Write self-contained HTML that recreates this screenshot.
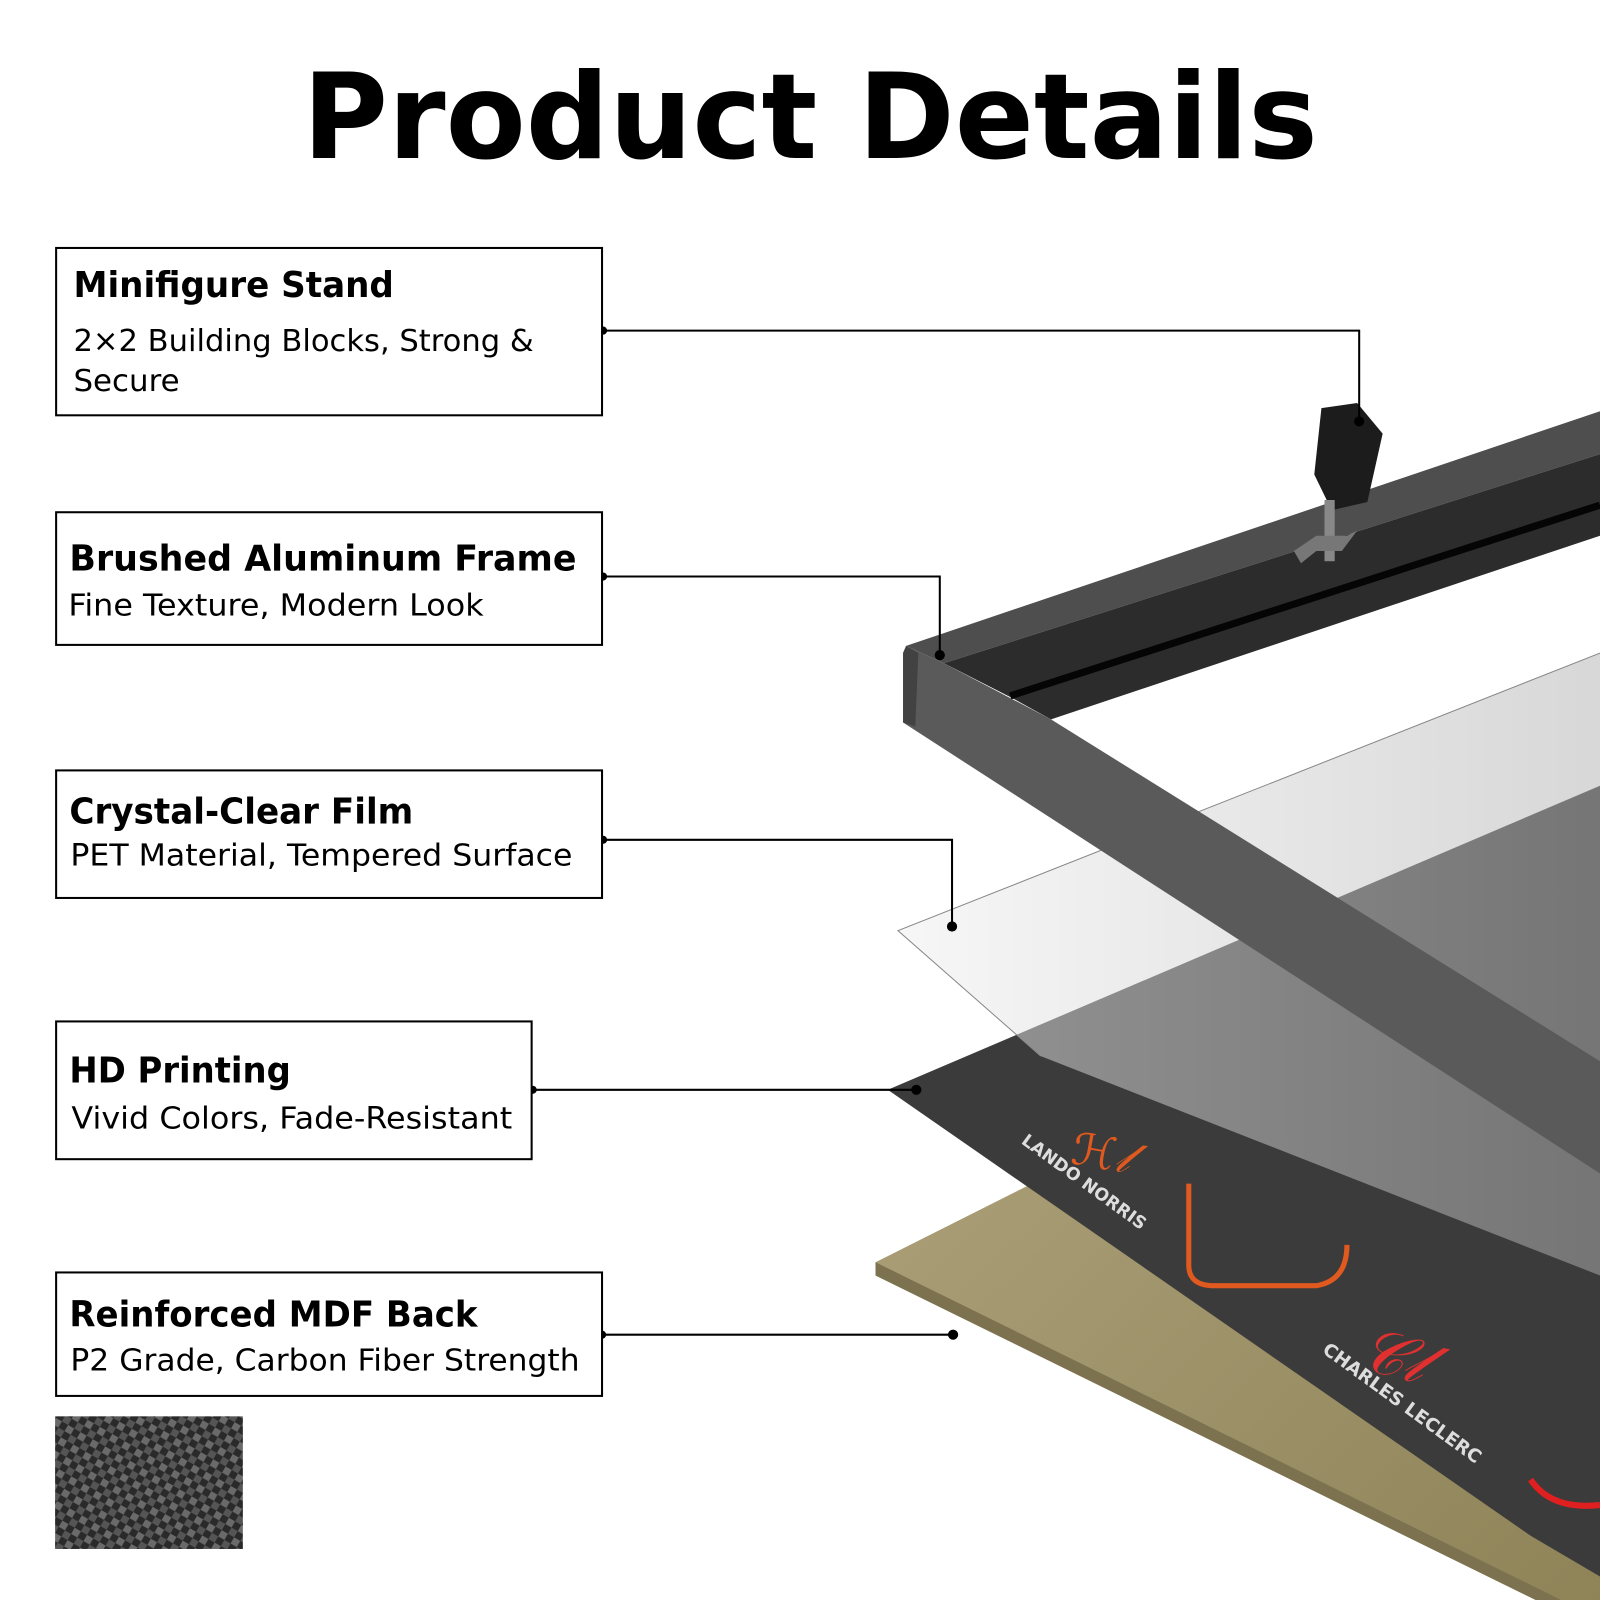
<!DOCTYPE html>
<html><head><meta charset="utf-8"><style>
html,body{margin:0;padding:0;background:#fff}
svg{display:block}
text{font-family:"DejaVu Sans","Liberation Sans",sans-serif}
</style></head><body>
<svg width="1600" height="1600" viewBox="0 0 1568 1568" xmlns="http://www.w3.org/2000/svg">
<defs>
<linearGradient id="film" x1="0" y1="0" x2="1" y2="0">
<stop offset="0" stop-color="#eeeeee"/><stop offset="1" stop-color="#b0b0b0"/></linearGradient>
<linearGradient id="mdf" x1="0" y1="0" x2="1" y2="1">
<stop offset="0" stop-color="#b0a57e"/><stop offset="1" stop-color="#8f8358"/></linearGradient>
<pattern id="cf" width="14" height="14" patternUnits="userSpaceOnUse" patternTransform="rotate(30)">
<rect width="14" height="14" fill="#2a2a2a"/><rect width="7" height="7" fill="#6a6a6a"/><rect x="7" y="7" width="7" height="7" fill="#555"/></pattern>
</defs>
<text x="794" y="155" text-anchor="middle" font-size="116" font-weight="bold" fill="#000" textLength="995" lengthAdjust="spacingAndGlyphs">Product Details</text>

<!-- MDF -->
<polygon points="858,1237 1568,880 1568,1568 1505,1568 858,1250" fill="url(#mdf)"/>
<polygon points="858,1237 858,1250 1505,1568 1530,1568" fill="#7d7250"/>
<!-- print -->
<polygon points="870,1068 1568,770 1568,1545 1500,1505" fill="#3b3b3b"/>
<path d="M1165,1160 L1165,1240 Q1165,1260 1190,1260 L1290,1260 Q1320,1255 1320,1220" fill="none" stroke="#e0591f" stroke-width="5"/>
<path d="M1500,1450 Q1520,1480 1568,1475" fill="none" stroke="#e02020" stroke-width="6"/>
<text x="1050" y="1140" font-size="44" fill="#e0591f" font-style="italic" transform="rotate(10 1050 1130)">ℋ𝓁</text>
<text x="1000" y="1120" font-size="17" font-weight="bold" fill="#ddd" transform="rotate(36 1000 1120)">LANDO NORRIS</text>
<text x="1330" y="1340" font-size="60" fill="#e03030" font-style="italic" transform="rotate(15 1330 1340)">𝒞𝓁</text>
<text x="1295" y="1325" font-size="18" font-weight="bold" fill="#ddd" transform="rotate(36 1295 1325)">CHARLES LECLERC</text>
<!-- film -->
<polygon points="880,912 1568,640 1568,1250 1020,1035" fill="url(#film)" opacity="0.5"/>
<polyline points="1568,640 880,912 1020,1035" fill="none" stroke="#888" stroke-width="1"/>
<!-- frame -->
<polygon points="888,633 1568,403 1568,445 925,650" fill="#4e4e4e"/>
<polygon points="925,650 1568,445 1568,525 1030,705 990,683" fill="#2c2c2c"/>
<line x1="990" y1="682" x2="1568" y2="495" stroke="#050505" stroke-width="7"/>
<polygon points="888,633 925,650 1030,705 1568,1040 1568,1150 885,708 885,640" fill="#5a5a5a"/>
<polygon points="885,640 888,633 900,640 897,712 885,708" fill="#424242"/>
<!-- stand -->
<polygon points="1295,400 1330,395 1355,425 1340,492 1305,500 1288,465" fill="#1c1c1c"/>
<rect x="1298" y="490" width="10" height="60" fill="#888"/>
<polygon points="1268,540 1290,525 1320,525 1330,520 1315,540 1290,540 1275,552" fill="#777"/>

<!-- leader lines -->
<g stroke="#000" stroke-width="2" fill="none">
<polyline points="591,324 1332,324 1332,413"/>
<polyline points="591,565 921,565 921,642"/>
<polyline points="591,823 933,823 933,908"/>
<polyline points="522,1068 898,1068"/>
<polyline points="590,1308 934,1308"/>
</g>
<g fill="#000">
<circle cx="591" cy="324" r="4"/><circle cx="1332" cy="413" r="5"/>
<circle cx="591" cy="565" r="4"/><circle cx="921" cy="642" r="5"/>
<circle cx="591" cy="823" r="4"/><circle cx="933" cy="908" r="5"/>
<circle cx="522" cy="1068" r="4"/><circle cx="898" cy="1068" r="5"/>
<circle cx="590" cy="1308" r="4"/><circle cx="934" cy="1308" r="5"/>
</g>

<!-- boxes -->
<g fill="#fff" stroke="#000" stroke-width="2">
<rect x="55" y="243" width="535" height="164"/>
<rect x="55" y="502" width="535" height="130"/>
<rect x="55" y="755" width="535" height="125"/>
<rect x="55" y="1001" width="466" height="135"/>
<rect x="55" y="1247" width="535" height="121"/>
</g>
<g fill="#000">
<text x="72" y="291" font-size="35" font-weight="bold" textLength="314" lengthAdjust="spacingAndGlyphs">Minifigure Stand</text>
<text x="72" y="344" font-size="30" textLength="451" lengthAdjust="spacingAndGlyphs">2×2 Building Blocks, Strong &amp;</text>
<text x="72" y="383" font-size="30" textLength="104" lengthAdjust="spacingAndGlyphs">Secure</text>
<text x="68" y="559" font-size="35" font-weight="bold" textLength="497" lengthAdjust="spacingAndGlyphs">Brushed Aluminum Frame</text>
<text x="67" y="603" font-size="30" textLength="407" lengthAdjust="spacingAndGlyphs">Fine Texture, Modern Look</text>
<text x="68" y="807" font-size="35" font-weight="bold" textLength="337" lengthAdjust="spacingAndGlyphs">Crystal-Clear Film</text>
<text x="69" y="848" font-size="30" textLength="492" lengthAdjust="spacingAndGlyphs">PET Material, Tempered Surface</text>
<text x="68" y="1061" font-size="35" font-weight="bold" textLength="217" lengthAdjust="spacingAndGlyphs">HD Printing</text>
<text x="70" y="1106" font-size="30" textLength="432" lengthAdjust="spacingAndGlyphs">Vivid Colors, Fade-Resistant</text>
<text x="68" y="1300" font-size="35" font-weight="bold" textLength="400" lengthAdjust="spacingAndGlyphs">Reinforced MDF Back</text>
<text x="69" y="1343" font-size="30" textLength="499" lengthAdjust="spacingAndGlyphs">P2 Grade, Carbon Fiber Strength</text>
</g>
<rect x="54" y="1388" width="184" height="130" fill="url(#cf)"/>
</svg>
</body></html>
